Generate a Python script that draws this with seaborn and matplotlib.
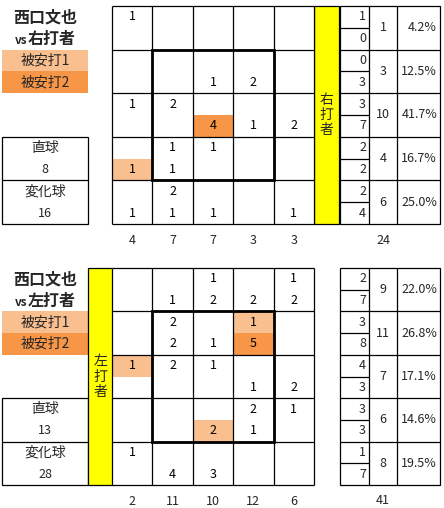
import numpy as np
import matplotlib
matplotlib.use("Agg")
import matplotlib.pyplot as plt
from matplotlib.colors import ListedColormap
from matplotlib.patches import Rectangle
import seaborn as sns

PITCHER = "西口文也"
ZONE_COLS = 5

# vs right-handed batters: top half of each cell = 直球, bottom half = 変化球
R_STRAIGHT = [
    [1, 0, 0, 0, 0],
    [0, 0, 0, 0, 0],
    [1, 2, 0, 0, 0],
    [0, 1, 1, 0, 0],
    [0, 2, 0, 0, 0],
]
R_BREAKING = [
    [0, 0, 0, 0, 0],
    [0, 0, 1, 2, 0],
    [0, 0, 4, 1, 2],
    [1, 1, 0, 0, 0],
    [1, 1, 1, 0, 1],
]
# hit markers: 1 = 被安打1, 2 = 被安打2
R_HIT_STRAIGHT = [
    [0, 0, 0, 0, 0],
    [0, 0, 0, 0, 0],
    [0, 0, 0, 0, 0],
    [0, 0, 0, 0, 0],
    [0, 0, 0, 0, 0],
]
R_HIT_BREAKING = [
    [0, 0, 0, 0, 0],
    [0, 0, 0, 0, 0],
    [0, 0, 2, 0, 0],
    [1, 0, 0, 0, 0],
    [0, 0, 0, 0, 0],
]

# vs left-handed batters
L_STRAIGHT = [
    [0, 0, 1, 0, 1],
    [0, 2, 0, 1, 0],
    [1, 2, 1, 0, 0],
    [0, 0, 0, 2, 1],
    [1, 0, 0, 0, 0],
]
L_BREAKING = [
    [0, 1, 2, 2, 2],
    [0, 2, 1, 5, 0],
    [0, 0, 0, 1, 2],
    [0, 0, 2, 1, 0],
    [0, 4, 3, 0, 0],
]
L_HIT_STRAIGHT = [
    [0, 0, 0, 0, 0],
    [0, 0, 0, 1, 0],
    [1, 0, 0, 0, 0],
    [0, 0, 0, 0, 0],
    [0, 0, 0, 0, 0],
]
L_HIT_BREAKING = [
    [0, 0, 0, 0, 0],
    [0, 0, 0, 2, 0],
    [0, 0, 0, 0, 0],
    [0, 0, 1, 0, 0],
    [0, 0, 0, 0, 0],
]

LIGHT = "#FABF8F"
DARK = "#F79646"
YELLOW = "#FFFF00"
FONT = ["Noto Sans CJK JP", "DejaVu Sans"]

sns.set_style("white")
plt.rcParams["font.family"] = FONT

W, H = 444, 508
fig = plt.figure(figsize=(W / 100, H / 100), dpi=100)
bg = fig.add_axes([0, 0, 1, 1])
bg.set_xlim(0, W)
bg.set_ylim(H, 0)
bg.axis("off")

NUM = 9
LBL = 10


def box(x0, y0, x1, y1, color="white", lw=0.9):
    bg.add_patch(Rectangle((x0, y0), x1 - x0, y1 - y0, facecolor=color,
                           edgecolor="black" if lw else "none", linewidth=lw))


def draw_panel(top, bottom, side, straight, breaking, hit_s, hit_b, yellow_x):
    straight = np.array(straight)
    breaking = np.array(breaking)
    n_rows = straight.shape[0]
    gx0, gx1 = 112, 314
    rh = (bottom - top) / n_rows

    # left block: title, legend, 直球/変化球 totals
    bg.text(45, top + 11, PITCHER, ha="center", va="center", fontsize=11.5, fontweight="bold")
    bg.text(27, top + 34, "vs", ha="right", va="center", fontsize=8.5, fontweight="bold")
    bg.text(28, top + 33, side + "打者", ha="left", va="center", fontsize=11.5, fontweight="bold")
    lx1 = 88
    bg.add_patch(Rectangle((2, top + rh), lx1 - 2, rh / 2, facecolor=LIGHT, edgecolor="none"))
    bg.add_patch(Rectangle((2, top + 1.5 * rh), lx1 - 2, rh / 2, facecolor=DARK, edgecolor="none"))
    bg.text(45, top + 1.25 * rh, "被安打1", ha="center", va="center", fontsize=LBL)
    bg.text(45, top + 1.75 * rh, "被安打2", ha="center", va="center", fontsize=LBL)
    box(2, top + 3 * rh, lx1, bottom)
    bg.plot([2, lx1], [top + 4 * rh] * 2, color="black", lw=0.9)
    for k, (lab, val) in enumerate([("直球", straight.sum()), ("変化球", breaking.sum())]):
        yy = top + (3 + k) * rh
        bg.text(45, yy + rh * 0.25, lab, ha="center", va="center", fontsize=LBL)
        bg.text(45, yy + rh * 0.75, str(val), ha="center", va="center", fontsize=NUM)

    # yellow batter column
    box(yellow_x, top, yellow_x + 25, bottom, color=YELLOW)
    bg.text(yellow_x + 12.5, top + 2.5 * rh, "\n".join(side + "打者"), ha="center", va="center",
            fontsize=10, linespacing=1.1)

    # right summary table
    rx0, rx1, rx2, rx3 = 340, 369, 397, 440
    box(rx0, top, rx3, bottom)
    for x in (rx1, rx2):
        bg.plot([x, x], [top, bottom], color="black", lw=0.9)
    total = straight.sum() + breaking.sum()
    for i in range(n_rows):
        y0 = top + i * rh
        if i:
            bg.plot([rx0, rx3], [y0, y0], color="black", lw=0.9)
        bg.plot([rx0, rx1], [y0 + rh / 2] * 2, color="black", lw=0.9)
        bg.text(rx1 - 3, y0 + rh * 0.25, str(straight[i].sum()), ha="right", va="center", fontsize=NUM)
        bg.text(rx1 - 3, y0 + rh * 0.75, str(breaking[i].sum()), ha="right", va="center", fontsize=NUM)
        rt = straight[i].sum() + breaking[i].sum()
        bg.text((rx1 + rx2) / 2, y0 + rh / 2, str(rt), ha="center", va="center", fontsize=NUM)
        bg.text(rx3 - 3, y0 + rh / 2, f"{rt / total * 100:.1f}%", ha="right", va="center", fontsize=NUM)
    bg.text((rx1 + rx2) / 2, bottom + 16, str(total), ha="center", va="center", fontsize=NUM)

    # zone grid as a heatmap of half-cells
    counts = np.empty((2 * n_rows, ZONE_COLS), dtype=int)
    counts[0::2] = straight
    counts[1::2] = breaking
    codes = np.empty_like(counts)
    codes[0::2] = hit_s
    codes[1::2] = hit_b
    labels = np.where(counts > 0, counts.astype(str), "")

    ax = fig.add_axes([gx0 / W, 1 - bottom / H, (gx1 - gx0) / W, (bottom - top) / H])
    sns.heatmap(codes, annot=labels, fmt="", cmap=ListedColormap(["white", LIGHT, DARK]),
                vmin=-0.5, vmax=2.5, cbar=False, xticklabels=False, yticklabels=False,
                annot_kws={"fontsize": NUM, "color": "black"}, ax=ax)
    ax.hlines(np.arange(0, 2 * n_rows + 1, 2), 0, ZONE_COLS, color="black", lw=0.9, clip_on=False)
    ax.vlines(np.arange(0, ZONE_COLS + 1), 0, 2 * n_rows, color="black", lw=0.9, clip_on=False)
    ax.add_patch(Rectangle((1, 2), 3, 6, fill=False, edgecolor="black", lw=2, clip_on=False))
    col_tot = counts.sum(axis=0)
    for j, v in enumerate(col_tot):
        ax.text(j + 0.5, 2 * n_rows + 0.75, str(v), ha="center", va="center",
                fontsize=NUM, clip_on=False)
    for s in ax.spines.values():
        s.set_visible(False)


draw_panel(6, 224, "右", R_STRAIGHT, R_BREAKING, R_HIT_STRAIGHT, R_HIT_BREAKING, 314)
draw_panel(268, 485, "左", L_STRAIGHT, L_BREAKING, L_HIT_STRAIGHT, L_HIT_BREAKING, 88)

fig.savefig("out.png", dpi=100)
